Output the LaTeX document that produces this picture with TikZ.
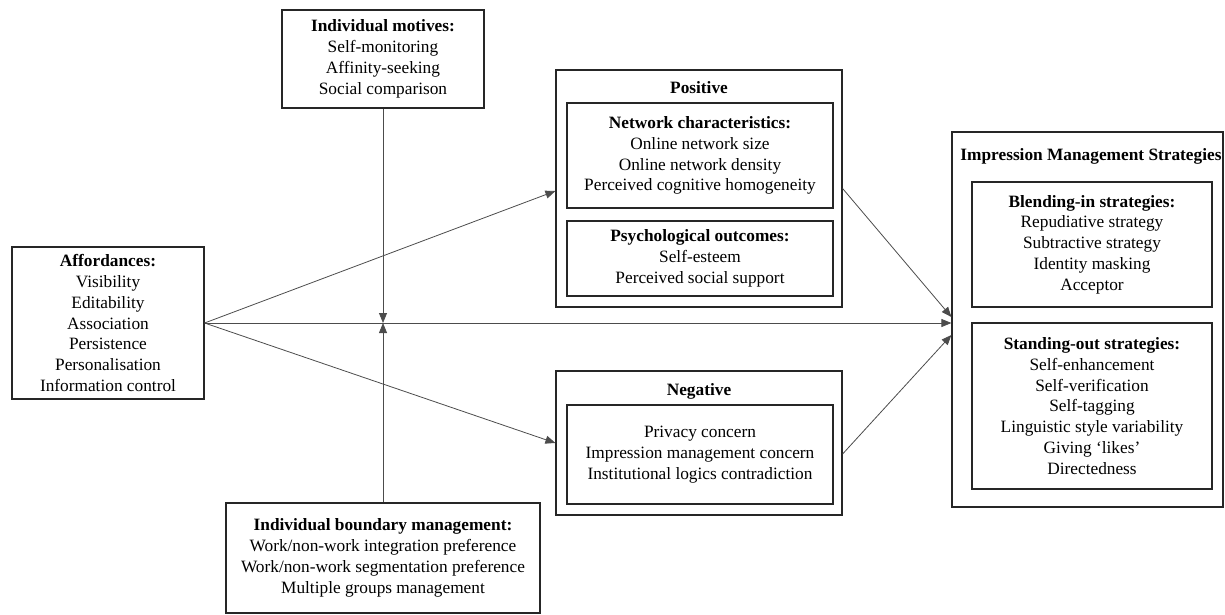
\documentclass[tikz,border=0pt]{standalone}
\usepackage{fontspec}
\setmainfont{Liberation Serif}
\usetikzlibrary{arrows.meta,calc}
\begin{document}
\begin{tikzpicture}[x=1pt,y=-1pt,
  box/.style={draw=black!85, line width=1.2pt, inner sep=0pt, align=center,
    font=\fontsize{17.3}{20.8}\selectfont},
  ttl/.style={font=\fontsize{17.3}{20.8}\selectfont\bfseries, inner sep=0pt},
  arr/.style={draw=black!70, line width=0.8pt, -{Triangle[length=10pt,width=8pt]}},
]
\useasboundingbox (0,0) rectangle (1225,615);

% left column
\node[box, minimum width=192pt, minimum height=152pt] (aff) at (108,323)
  {\textbf{Affordances:}\\Visibility\\Editability\\Association\\Persistence\\Personalisation\\Information control};

% moderators
\node[box, minimum width=202pt, minimum height=98pt] (mot) at (383,59)
  {\textbf{Individual motives:}\\Self-monitoring\\Affinity-seeking\\Social comparison};
\node[box, minimum width=314pt, minimum height=110pt] (bnd) at (383,558)
  {\textbf{Individual boundary management:}\\Work/non-work integration preference\\Work/non-work segmentation preference\\Multiple groups management};

% positive
\node[box, minimum width=286pt, minimum height=237pt] (pos) at (699,188.5) {};
\node[ttl] (postitle) at (699,88) {Positive};
\node[box, minimum width=266pt, minimum height=105pt] (net) at (700,155.5)
  {\textbf{Network characteristics:}\\Online network size\\Online network density\\Perceived cognitive homogeneity};
\node[box, minimum width=266pt, minimum height=75pt] (psy) at (700,258.5)
  {\textbf{Psychological outcomes:}\\Self-esteem\\Perceived social support};

% negative
\node[box, minimum width=286pt, minimum height=144pt] (neg) at (699,443) {};
\node[ttl] (negtitle) at (699,391) {Negative};
\node[box, minimum width=266pt, minimum height=99pt] (negin) at (700,454.5)
  {Privacy concern\\Impression management concern\\Institutional logics contradiction};

% impression management strategies
\node[box, minimum width=271pt, minimum height=375pt] (imp) at (1087.5,319.5) {};
\node[ttl] (imptitle) at (1091,156) {Impression Management Strategies};
\node[box, minimum width=240pt, minimum height=125pt] (bld) at (1092,244.5)
  {\textbf{Blending-in strategies:}\\Repudiative strategy\\Subtractive strategy\\Identity masking\\Acceptor};
\node[box, minimum width=240pt, minimum height=166pt] (std) at (1092,406)
  {\textbf{Standing-out strategies:}\\Self-enhancement\\Self-verification\\Self-tagging\\Linguistic style variability\\Giving `likes'\\Directedness};

% connectors
\coordinate (mid) at (aff.east -| mot.south);
\draw[arr] (aff.east) -- ([yshift=-2.5pt]pos.west);
\draw[arr] (aff.east) -- (neg.west);
\draw[arr] (aff.east) -- (aff.east -| imp.west);
\draw[arr] (mot.south) -- (mid);
\draw[arr] (bnd.north) -- (mid);
\draw[arr] (pos.east) -- ([yshift=2.5pt]imp.west);
\draw[arr] ([yshift=-11pt]neg.east) -- ([yshift=-15.5pt]imp.west);
\end{tikzpicture}
\end{document}
